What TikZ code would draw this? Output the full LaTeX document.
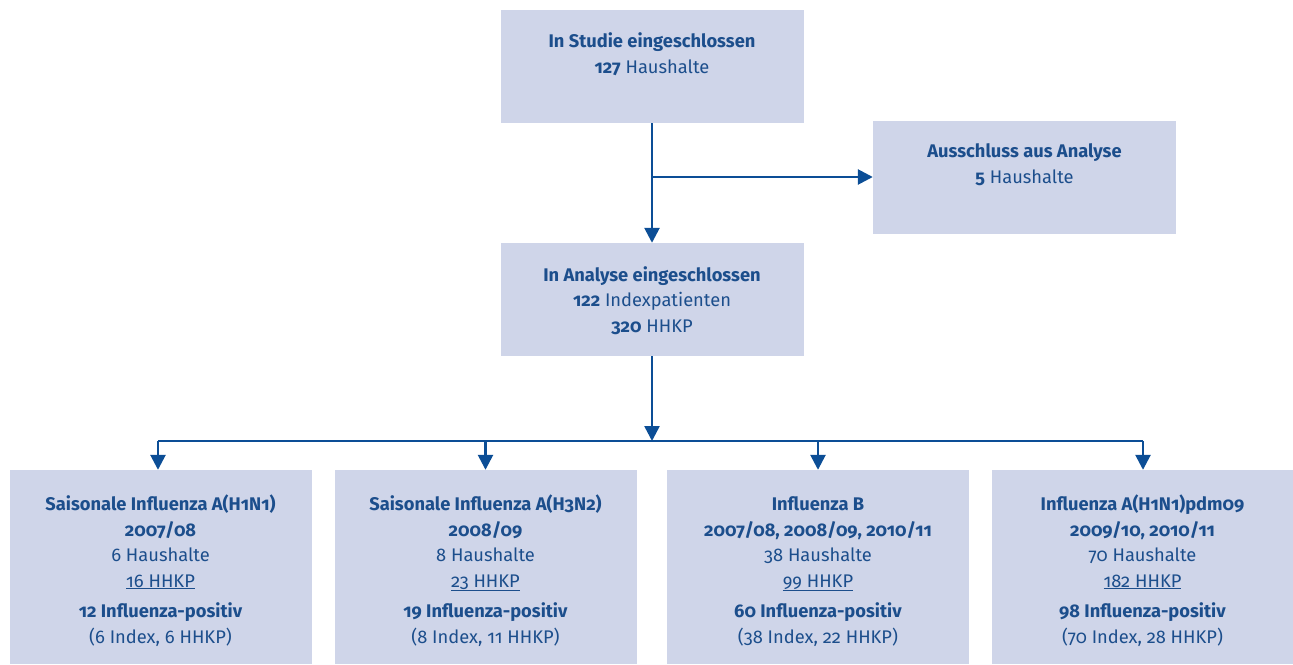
\documentclass[tikz,border=0pt]{standalone}
\usepackage{fontspec}
\setmainfont{Fira Sans}[Numbers=OldStyle]
\usetikzlibrary{arrows.meta}
\definecolor{boxfill}{RGB}{207,213,233}
\definecolor{txt}{RGB}{28,78,140}
\definecolor{arrcol}{RGB}{12,78,150}
\tikzset{
  box/.style={fill=boxfill, draw=none, inner sep=0pt, minimum width=303pt, minimum height=113pt},
  lowbox/.style={fill=boxfill, draw=none, inner sep=0pt, minimum width=302pt, minimum height=194pt},
  lbl/.style={text=txt, align=center, inner sep=0pt, anchor=base, font=\fontsize{18.3}{25.5}\selectfont},
  conn/.style={draw=arrcol, line width=2.6pt},
  arr/.style={conn, -{Triangle[length=15pt,width=15pt]}}
}
\begin{document}
\begin{tikzpicture}[x=1pt,y=-1pt]
\useasboundingbox (0,0) rectangle (1293,664);
% boxes
\node[box] (top) at (652,66.5) {};
\node[box] (excl) at (1024.5,177) {};
\node[box] (mid) at (652,299.5) {};
\node[lowbox] (b1) at (160.5,567) {};
\node[lowbox] (b2) at (485.5,567) {};
\node[lowbox] (b3) at (818,567) {};
\node[lowbox] (b4) at (1142.5,567) {};
% texts (anchor base = baseline of last line)
\node[lbl] (ttop) at (652,73) {\textbf{In Studie eingeschlossen}\\\textbf{127} Haushalte};
\node[lbl] (texcl) at (1024.5,183) {\textbf{Ausschluss aus Analyse}\\\textbf{5} Haushalte};
\node[lbl] (tmid) at (652,332) {\textbf{In Analyse eingeschlossen}\\\textbf{122} Indexpatienten\\\textbf{320} HHKP};
\node[lbl] (t1) at (160.5,643) {\textbf{Saisonale Influenza A(H1N1)}\\\textbf{2007/08}\\6 Haushalte\\\underline{16 HHKP}\\[5pt]\textbf{12 Influenza-positiv}\\(6 Index, 6 HHKP)};
\node[lbl] (t2) at (485.5,643) {\textbf{Saisonale Influenza A(H3N2)}\\\textbf{2008/09}\\8 Haushalte\\\underline{23 HHKP}\\[5pt]\textbf{19 Influenza-positiv}\\(8 Index, 11 HHKP)};
\node[lbl] (t3) at (818,643) {\textbf{Influenza B}\\\textbf{2007/08, 2008/09, 2010/11}\\38 Haushalte\\\underline{99 HHKP}\\[5pt]\textbf{60 Influenza-positiv}\\(38 Index, 22 HHKP)};
\node[lbl] (t4) at (1142.5,643) {\textbf{Influenza A(H1N1)pdm09}\\\textbf{2009/10, 2010/11}\\70 Haushalte\\\underline{182 HHKP}\\[5pt]\textbf{98 Influenza-positiv}\\(70 Index, 28 HHKP)};
% connectors
\coordinate (br) at (652,177);
\coordinate (split) at (652,441);
\coordinate (hl) at (158,441);
\coordinate (hr) at (1143,441);
\draw[arr] (top.south) -- (mid.north);
\draw[arr] (br) -- (excl.west);
\draw[arr] (mid.south) -- (split);
\draw[conn] (hl) -- (hr);
\draw[arr] (hl) -- (hl |- b1.north);
\draw[arr] (b2.north |- split) -- (b2.north);
\draw[arr] (b3.north |- split) -- (b3.north);
\draw[arr] (hr) -- (hr |- b4.north);
\end{tikzpicture}
\end{document}
